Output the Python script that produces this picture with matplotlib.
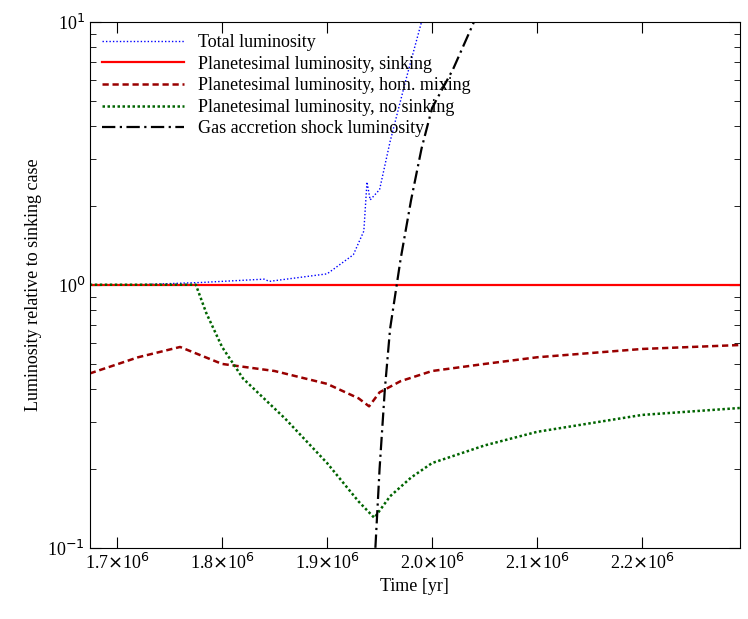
import matplotlib.pyplot as plt
from matplotlib.ticker import FixedLocator, FixedFormatter, LogLocator, NullFormatter

plt.rcParams["font.family"] = "Liberation Serif"

t_total = [1.674e6, 1.72e6, 1.78e6, 1.84e6, 1.845e6, 1.9e6, 1.925e6, 1.935e6, 1.938e6, 1.941e6, 1.95e6, 1.96e6, 1.975e6, 1.99e6]
l_total = [1.0, 1.0, 1.02, 1.05, 1.03, 1.1, 1.3, 1.6, 2.46, 2.1, 2.3, 3.5, 6.0, 10.0]

t_mix = [1.674e6, 1.72e6, 1.76e6, 1.8e6, 1.85e6, 1.9e6, 1.93e6, 1.94e6, 1.95e6, 1.97e6, 2.0e6, 2.05e6, 2.1e6, 2.2e6, 2.293e6]
l_mix = [0.46, 0.53, 0.58, 0.5, 0.47, 0.42, 0.37, 0.345, 0.39, 0.43, 0.47, 0.5, 0.53, 0.57, 0.59]

t_nos = [1.674e6, 1.775e6, 1.785e6, 1.8e6, 1.82e6, 1.86e6, 1.9e6, 1.93e6, 1.945e6, 1.96e6, 1.98e6, 2.0e6, 2.05e6, 2.1e6, 2.2e6, 2.293e6]
l_nos = [1.0, 1.0, 0.78, 0.58, 0.44, 0.31, 0.21, 0.15, 0.13, 0.157, 0.185, 0.21, 0.245, 0.276, 0.32, 0.34]

t_gas = [1.946e6, 1.95e6, 1.955e6, 1.96e6, 1.97e6, 1.98e6, 1.99e6, 2.0e6, 2.02e6, 2.04e6]
l_gas = [0.1, 0.2, 0.4, 0.68, 1.25, 2.1, 3.3, 4.7, 6.6, 10.0]

xticks = [1.7e6, 1.8e6, 1.9e6, 2.0e6, 2.1e6, 2.2e6]
xlabels = [r"1.7$\times$10$^6$", r"1.8$\times$10$^6$", r"1.9$\times$10$^6$",
           r"2.0$\times$10$^6$", r"2.1$\times$10$^6$", r"2.2$\times$10$^6$"]

fig = plt.figure(figsize=(7.48, 6.19), dpi=100)
ax = fig.add_axes([0.12, 0.115, 0.869, 0.85])

ax.plot(t_total, l_total, color="blue", ls=(0, (1, 1.5)), lw=1, label="Total luminosity")
ax.axhline(1.0, color="red", lw=1.6, label="Planetesimal luminosity, sinking")
ax.plot(t_mix, l_mix, color="#990000", ls=(0, (2.5, 1.5)), lw=1.8, label="Planetesimal luminosity, hom. mixing")
ax.plot(t_nos, l_nos, color="#006400", ls=(0, (1, 1)), lw=1.8, label="Planetesimal luminosity, no sinking")
ax.plot(t_gas, l_gas, color="black", ls=(0, (6, 2, 1, 2)), lw=1.6, label="Gas accretion shock luminosity")

ax.set_yscale("log")
ax.xaxis.set_major_locator(FixedLocator(xticks))
ax.xaxis.set_major_formatter(FixedFormatter(xlabels))
ax.yaxis.set_major_locator(FixedLocator([0.1, 1, 10]))
ax.yaxis.set_major_formatter(FixedFormatter([r"10$^{-1}$", r"10$^0$", r"10$^1$"]))
ax.yaxis.set_minor_locator(LogLocator(subs=range(2, 10)))
ax.yaxis.set_minor_formatter(NullFormatter())
ax.set_xlim(1.674e6, 2.293e6)
ax.set_ylim(0.1, 10)
ax.tick_params(which="both", direction="in", top=True, right=True, labelsize=13)
ax.tick_params(which="major", length=8)
ax.tick_params(which="minor", length=4)
ax.set_xlabel("Time [yr]", fontsize=13)
ax.set_ylabel("Luminosity relative to sinking case", fontsize=13)
ax.legend(loc="upper left", frameon=False, fontsize=13, handlelength=4.5,
          labelspacing=0.25, borderaxespad=0.3)

fig.savefig("out.png")
